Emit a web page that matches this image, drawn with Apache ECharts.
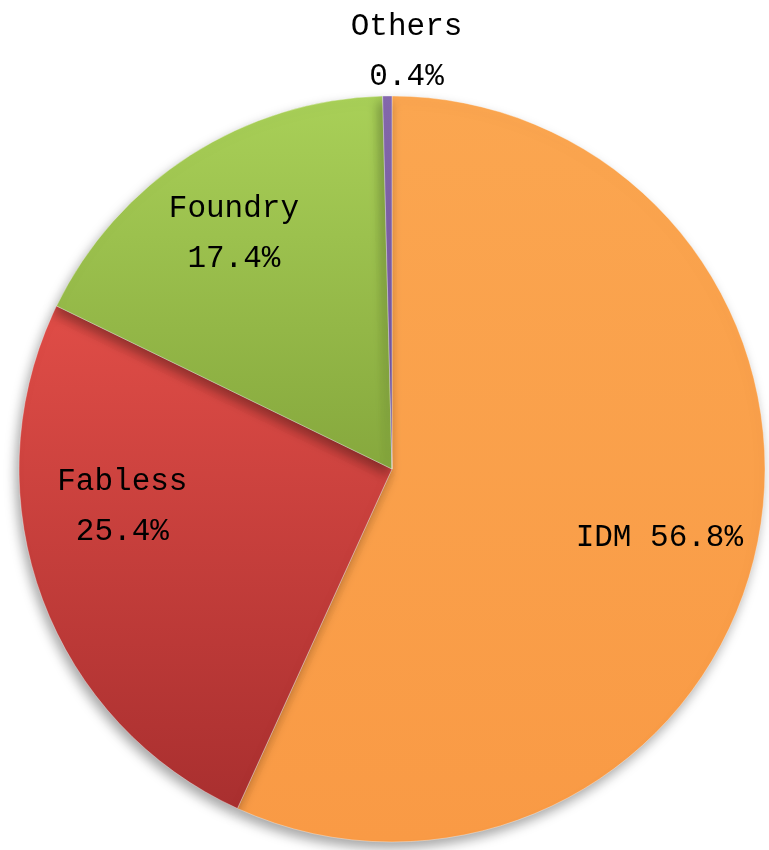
<!DOCTYPE html>
<html>
<head>
<meta charset="utf-8">
<script src="https://cdn.jsdelivr.net/npm/echarts@6/dist/echarts.min.js"></script>
<style>
  html, body { margin: 0; padding: 0; background: #fff; }
  #chart { width: 769px; height: 850px; }
</style>
</head>
<body>
<div id="chart"></div>
<script>
// 数据
const names = ['IDM', 'Fabless', 'Foundry', 'Others']
const shares = [56.8, 25.4, 17.4, 0.4]

// 样式
const topColors = ['#fba650', '#e04d47', '#a9d058', '#8569ae']
const bottomColors = ['#f99a45', '#a92f2f', '#86a83d', '#6e5197']
// label placement: [angle deg, fraction of radius]
const labelPlace = [[-14.4, 0.74], [-172, 0.73], [123.9, 0.76], [88, 1.12]]

const cx = 392, cy = 469, R = 373

const chart = echarts.init(document.getElementById('chart'), null, { renderer: 'canvas' })

const data = names.map((n, i) => ({
  name: n,
  value: shares[i],
  itemStyle: {
    color: new echarts.graphic.LinearGradient(0, 0, 0, 1, [
      { offset: 0, color: topColors[i] },
      { offset: 1, color: bottomColors[i] },
    ]),
  },
}))

const fmt = (p) => {
  const v = shares[p.dataIndex].toFixed(1) + '%'
  return p.name === 'IDM' ? p.name + ' ' + v : p.name + '\n' + v
}

const option = {
  backgroundColor: '#ffffff',
  animation: false,
  series: [
    {
      type: 'pie',
      center: [cx, cy],
      radius: [0, R],
      startAngle: 90,
      clockwise: true,
      data,
      itemStyle: {
        borderColor: 'rgba(255,255,255,0.35)',
        borderWidth: 1,
        shadowBlur: 12,
        shadowOffsetX: -3,
        shadowOffsetY: 6,
        shadowColor: 'rgba(0,0,0,0.35)',
      },
      label: {
        show: true,
        position: 'inside',
        formatter: fmt,
        color: '#000',
        fontFamily: 'Liberation Mono',
        fontSize: 31,
        lineHeight: 50,
        align: 'center',
      },
      labelLine: { show: false },
      labelLayout: function (p) {
        const [a, k] = labelPlace[p.dataIndex]
        const rad = (a * Math.PI) / 180
        return {
          x: cx + R * k * Math.cos(rad),
          y: cy - R * k * Math.sin(rad),
          align: 'center',
          verticalAlign: 'middle',
        }
      },
      emphasis: { disabled: true },
    },
  ],
}
option && chart.setOption(option)
</script>
</body>
</html>
